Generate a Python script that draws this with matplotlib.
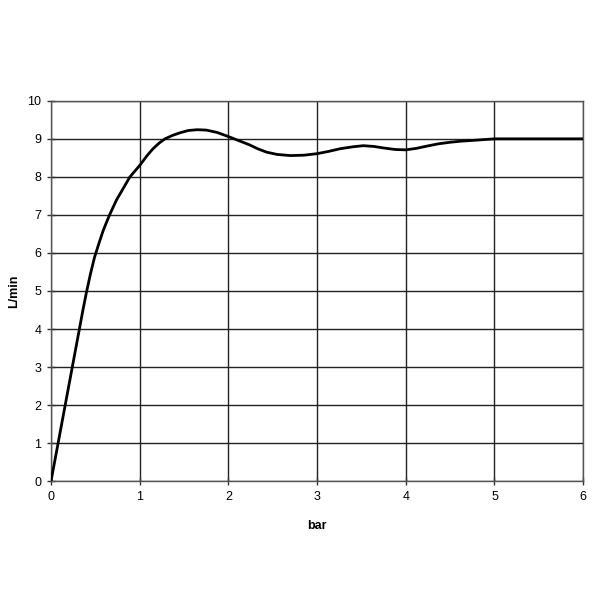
import matplotlib
matplotlib.use("Agg")
import matplotlib.pyplot as plt

# values
pressure_bar = [0, 0.08, 0.16, 0.24, 0.32, 0.36, 0.40, 0.445, 0.49, 0.54, 0.59, 0.66,
                0.74, 0.82, 0.89, 1.0, 1.08, 1.15, 1.22, 1.285, 1.37, 1.455, 1.55,
                1.65, 1.75, 1.87, 2.0, 2.12, 2.24, 2.33, 2.43, 2.55, 2.7, 2.85, 3.0,
                3.13, 3.26, 3.4, 3.52, 3.64, 3.75, 3.88, 4.0, 4.12, 4.24, 4.37, 4.5,
                4.63, 4.76, 4.88, 5.0, 5.5, 6.0]
flow_lpm = [0, 1, 2, 3, 4, 4.5, 4.97, 5.45, 5.88, 6.25, 6.6, 7.0,
            7.4, 7.72, 8.0, 8.3, 8.55, 8.74, 8.89, 9.0, 9.09, 9.16, 9.22,
            9.24, 9.23, 9.17, 9.06, 8.95, 8.84, 8.74, 8.65, 8.59, 8.56, 8.57, 8.61,
            8.67, 8.74, 8.79, 8.82, 8.8, 8.76, 8.72, 8.71, 8.75, 8.81, 8.87, 8.91,
            8.94, 8.96, 8.98, 9.0, 9.0, 9.0]

plt.rcParams["font.family"] = ["Liberation Sans", "DejaVu Sans"]

fig = plt.figure(figsize=(6, 6), dpi=100)
ax = fig.add_axes([0.085, 0.198, 0.887, 0.634])
ax.plot(pressure_bar, flow_lpm, color="black", lw=2.0, solid_joinstyle="round",
        solid_capstyle="round", zorder=3)

ax.set_xlim(0, 6)
ax.set_ylim(0, 10)
ax.set_xticks(range(0, 7))
ax.set_yticks(range(0, 11))
ax.grid(True, color="#222222", lw=1.0)
ax.set_axisbelow(True)
for s in ax.spines.values():
    s.set_color("#555555")
    s.set_linewidth(1.0)
ax.tick_params(direction="inout", length=6, width=1, color="#333333", labelsize=9, pad=4)

ax.set_xlabel("bar", fontsize=9, fontweight="bold", labelpad=12)
ax.set_ylabel("L/min", fontsize=9, fontweight="bold", labelpad=5)

fig.savefig("out.png", dpi=100)
